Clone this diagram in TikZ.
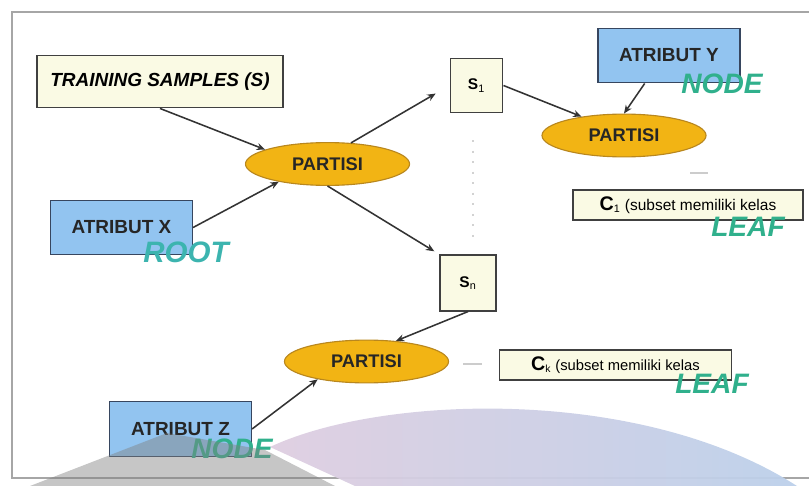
\documentclass[tikz,border=0pt]{standalone}
\usepackage{fontspec}
\setmainfont{Liberation Sans}
\usepackage{tikz}
\usetikzlibrary{calc, positioning, shapes.geometric, arrows.meta}

\definecolor{attrblue}{RGB}{146,196,240}
\definecolor{attredge}{RGB}{55,70,95}
\definecolor{partfill}{RGB}{242,180,20}
\definecolor{partedge}{RGB}{185,135,30}
\definecolor{samplefill}{RGB}{250,250,228}
\definecolor{tagteal}{RGB}{48,176,140}
\definecolor{rootteal}{RGB}{60,180,175}
\definecolor{wmpink}{RGB}{222,206,224}
\definecolor{wmblue}{RGB}{188,208,234}

\begin{document}
\begin{tikzpicture}[>={Stealth[length=6pt,width=5pt]}, x=0.025cm, y=-0.025cm,
  attrbox/.style={draw=attredge, fill=attrblue, thick, minimum width=3.55cm,
    minimum height=1.37cm, font=\fontsize{13.5}{15}\selectfont\bfseries, text=black!85},
  samplebox/.style={draw=black!75, fill=samplefill, thick},
  partisi/.style={ellipse, draw=partedge, fill=partfill, thick, minimum width=4.1cm,
    minimum height=1.07cm, font=\fontsize{13}{15}\selectfont\bfseries, text=black!85},
  tag/.style={text=tagteal, font=\fontsize{20}{22}\selectfont\bfseries\itshape},
  link/.style={->, line width=1.1pt, draw=black!80}]
  \useasboundingbox (0,0) rectangle (809,486);
  % frame
  \draw[gray!70, line width=1pt] (809,12) -- (12,12) -- (12,478) -- (809,478);
  % root level
  \node[samplebox, minimum width=6.15cm, minimum height=1.32cm,
    font=\fontsize{13.5}{15}\selectfont\bfseries\itshape] (TS) at (160,81.5) {TRAINING SAMPLES (S)};
  \node[attrbox] (AX) at (121.5,227.5) {ATRIBUT X};
  \node[tag, text=rootteal, font=\fontsize{21}{23}\selectfont\bfseries\itshape] (root) at (186,252) {ROOT};
  \node[partisi] (P1) at (327.5,164) {PARTISI};
  % subsets
  \node[samplebox, minimum width=1.32cm, minimum height=1.37cm,
    font=\fontsize{11}{13}\selectfont] (S1) at (476.5,85.5) {\textbf{S}\textsubscript{1}};
  \node[samplebox, minimum width=1.4cm, minimum height=1.4cm,
    font=\fontsize{11}{13}\selectfont] (Sn) at (468,283) {\textbf{S}\textsubscript{n}};
  % upper branch
  \node[attrbox] (AY) at (669,55.5) {ATRIBUT Y};
  \node[tag] (nodeY) at (722,84) {NODE};
  \node[partisi] (P2) at (624,135.5) {PARTISI};
  \node[samplebox, minimum width=5.75cm, minimum height=0.75cm,
    font=\fontsize{11}{13}\selectfont] (C1) at (688,205)
    {{\fontsize{14}{14}\selectfont\bfseries C}\textsubscript{1} (subset memiliki kelas};
  \node[tag] (leaf1) at (748,227) {LEAF};
  % lower branch
  \node[partisi] (P3) at (366.5,361.5) {PARTISI};
  \node[samplebox, minimum width=5.78cm, minimum height=0.75cm,
    font=\fontsize{10.5}{12}\selectfont] (Ck) at (615.5,365)
    {{\fontsize{14}{14}\selectfont\bfseries C}\textsubscript{k} (subset memiliki kelas};
  \node[tag] (leaf2) at (712,384) {LEAF};
  \node[attrbox] (AZ) at (180.5,429) {ATRIBUT Z};
  \node[tag] (nodeZ) at (232,449) {NODE};
  % connectors
  \draw[link] (TS.south) -- (P1.167);
  \draw[link] (AX.east) -- (P1.200);
  \draw[link, shorten >=4mm] (P1.42) -- (S1.west);
  \draw[link, shorten >=1.5mm] (P1.south) -- (Sn.north west);
  \draw[link] (S1.east) -- (P2.156);
  \draw[link] (AY.229) -- (P2.north);
  \draw[link] (Sn.south) -- (P3.35);
  \draw[link] (AZ.east) -- (P3.200);
  % dots and dashes
  \draw[gray!35, line width=1.5pt, dash pattern=on 1.5pt off 6pt] (473,140) -- (473,245);
  \draw[gray!40, line width=1pt] (690,173) -- (708,173);
  \draw[gray!40, line width=1pt] (463,364) -- (482,364);
  % watermark
  \fill[gray, opacity=0.45] (30,486) -- (167,433) -- (265,450) -- (335,486) -- cycle;
  \shade[left color=wmpink, right color=wmblue, opacity=0.95]
    (270,447) .. controls (380,395) and (640,385) .. (797,486) -- (355,486) -- cycle;
\end{tikzpicture}
\end{document}
